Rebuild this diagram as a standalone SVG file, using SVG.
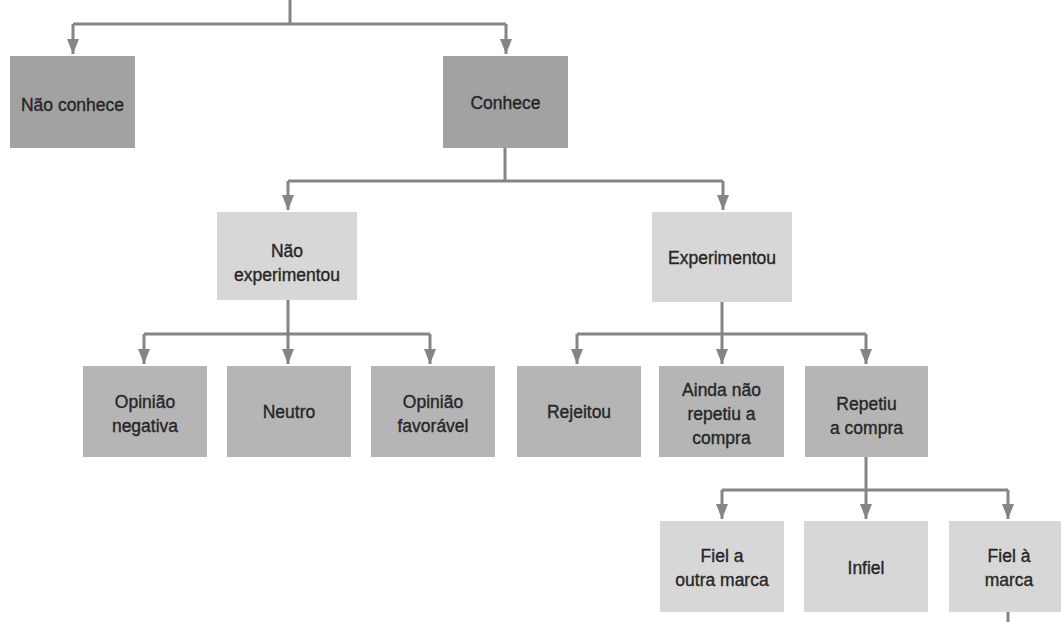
<svg xmlns="http://www.w3.org/2000/svg" width="1061" height="622" viewBox="0 0 1061 622">
  <style>
    .box-dark { fill: #a2a2a2; }
    .box-mid { fill: #b5b5b5; }
    .box-light { fill: #d7d7d7; }
    .label { font-family: "Liberation Sans", Arial, sans-serif; font-size: 17.5px; fill: #262626; stroke: #262626; stroke-width: 0.35; text-anchor: middle; }
    .wire { fill: none; stroke: #858585; stroke-width: 3; }
    .wire-arrow { fill: none; stroke: #858585; stroke-width: 3; marker-end: url(#head); }
  </style>
  <defs>
    <marker id="head" markerUnits="userSpaceOnUse" markerWidth="12" markerHeight="16" viewBox="0 0 12 16" refX="6" refY="15" orient="0">
      <path d="M0,0 L12,0 L6,15 Z" fill="#858585"/>
    </marker>
  </defs>
  <rect width="1061" height="622" fill="#ffffff"/>

  <g id="connectors">
    <!-- root split -->
    <path class="wire" d="M290,0 V24 M73,24 H506"/>
    <path class="wire-arrow" d="M73,24 V54"/>
    <path class="wire-arrow" d="M506,24 V54"/>
    <!-- Conhece split -->
    <path class="wire" d="M505,148 V181 M288,181 H723"/>
    <path class="wire-arrow" d="M288,181 V210"/>
    <path class="wire-arrow" d="M723,181 V210"/>
    <!-- Não experimentou split -->
    <path class="wire" d="M288,300 V334 M144,334 H430"/>
    <path class="wire-arrow" d="M144,334 V364"/>
    <path class="wire-arrow" d="M288,334 V364"/>
    <path class="wire-arrow" d="M430,334 V364"/>
    <!-- Experimentou split -->
    <path class="wire" d="M722,302 V334 M577,334 H866"/>
    <path class="wire-arrow" d="M577,334 V364"/>
    <path class="wire-arrow" d="M722,334 V364"/>
    <path class="wire-arrow" d="M866,334 V364"/>
    <!-- Repetiu a compra split -->
    <path class="wire" d="M866,457 V490 M722,490 H1008"/>
    <path class="wire-arrow" d="M722,490 V519"/>
    <path class="wire-arrow" d="M866,490 V519"/>
    <path class="wire-arrow" d="M1008,490 V519"/>
    <!-- continuation below Fiel à marca -->
    <path class="wire" d="M1008,612 V622"/>
  </g>

  <g id="nao-conhece">
    <rect class="box-dark" x="10" y="56" width="125" height="92"/>
    <text class="label" x="72.5" y="111">Não conhece</text>
  </g>
  <g id="conhece">
    <rect class="box-dark" x="443" y="56" width="125" height="92"/>
    <text class="label" x="505.5" y="109">Conhece</text>
  </g>

  <g id="nao-experimentou">
    <rect class="box-light" x="217" y="212" width="140" height="88"/>
    <text class="label" x="287" y="257">Não</text>
    <text class="label" x="287" y="281">experimentou</text>
  </g>
  <g id="experimentou">
    <rect class="box-light" x="652" y="212" width="140" height="90"/>
    <text class="label" x="722" y="264">Experimentou</text>
  </g>

  <g id="opiniao-negativa">
    <rect class="box-mid" x="83" y="366" width="124" height="91"/>
    <text class="label" x="145" y="408">Opinião</text>
    <text class="label" x="145" y="432">negativa</text>
  </g>
  <g id="neutro">
    <rect class="box-mid" x="227" y="366" width="124" height="91"/>
    <text class="label" x="289" y="418">Neutro</text>
  </g>
  <g id="opiniao-favoravel">
    <rect class="box-mid" x="371" y="366" width="124" height="91"/>
    <text class="label" x="433" y="408">Opinião</text>
    <text class="label" x="433" y="432">favorável</text>
  </g>
  <g id="rejeitou">
    <rect class="box-mid" x="517" y="366" width="124" height="91"/>
    <text class="label" x="579" y="418">Rejeitou</text>
  </g>
  <g id="ainda-nao-repetiu">
    <rect class="box-mid" x="659" y="366" width="125" height="91"/>
    <text class="label" x="721.5" y="396">Ainda não</text>
    <text class="label" x="721.5" y="420">repetiu a</text>
    <text class="label" x="721.5" y="444">compra</text>
  </g>
  <g id="repetiu-a-compra">
    <rect class="box-mid" x="805" y="366" width="123" height="91"/>
    <text class="label" x="866.5" y="410">Repetiu</text>
    <text class="label" x="866.5" y="434">a compra</text>
  </g>

  <g id="fiel-outra-marca">
    <rect class="box-light" x="660" y="521" width="124" height="91"/>
    <text class="label" x="722" y="562">Fiel a</text>
    <text class="label" x="722" y="586">outra marca</text>
  </g>
  <g id="infiel">
    <rect class="box-light" x="804" y="521" width="124" height="91"/>
    <text class="label" x="866" y="574">Infiel</text>
  </g>
  <g id="fiel-a-marca">
    <rect class="box-light" x="949" y="521" width="124" height="91"/>
    <text class="label" x="1009" y="562">Fiel à</text>
    <text class="label" x="1009" y="586">marca</text>
  </g>
</svg>
